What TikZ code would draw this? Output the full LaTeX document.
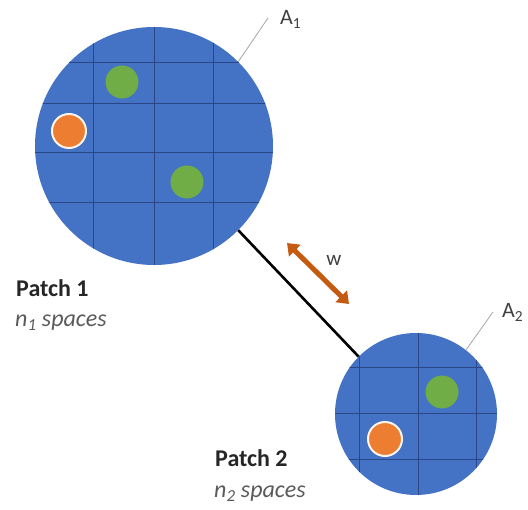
\documentclass[tikz,border=0pt]{standalone}
\usepackage{fontspec}
\setmainfont{Carlito}
\usetikzlibrary{arrows.meta,calc}

\definecolor{patchblue}{HTML}{4472C4}
\definecolor{gridnavy}{HTML}{2A4686}
\definecolor{agentgreen}{HTML}{70AD47}
\definecolor{agentorange}{HTML}{ED7D31}
\definecolor{linkorange}{HTML}{C55A11}
\definecolor{labelgrey}{HTML}{404040}
\definecolor{softgrey}{HTML}{5A5A5A}
\definecolor{leadergrey}{HTML}{A6A6A6}

\tikzset{
  patch/.style={circle, fill=patchblue, inner sep=0pt},
  gridline/.style={draw=gridnavy, line width=1pt},
  greendot/.style={circle, fill=agentgreen, inner sep=0pt, minimum size=33pt},
  orangedot/.style={circle, fill=agentorange, draw=white!92!orange, line width=2pt, inner sep=0pt, minimum size=34pt},
  corridor/.style={draw=black, line width=2.6pt},
  leader/.style={draw=leadergrey, line width=0.8pt},
  linkarrow/.style={draw=linkorange, line width=5pt,
    {Triangle[width=16pt,length=11pt]}-{Triangle[width=16pt,length=11pt]}},
  arealabel/.style={text=labelgrey, font=\fontsize{22}{24}\selectfont, inner sep=0pt, anchor=base west},
  patchname/.style={text=black!85, font=\fontsize{24}{26}\selectfont\bfseries, inner sep=0pt, anchor=base west},
  patchsize/.style={text=softgrey, font=\fontsize{24}{26}\selectfont\itshape, inner sep=0pt, anchor=base west}
}

\begin{document}
\begin{tikzpicture}[x=1pt,y=-1pt]
\useasboundingbox (0,0) rectangle (528,510);

% the two habitat patches
\node[patch, minimum size=238pt] (p1) at (154,146) {};
\node[patch, minimum size=162pt] (p2) at (416,414) {};

% grid of spaces inside patch 1
\begin{scope}
  \clip (p1.center) circle[radius=119pt];
  \foreach \gx in {93,154,213} \draw[gridline] (\gx,20) -- (\gx,270);
  \foreach \gy in {63,104,153,203} \draw[gridline] (30,\gy) -- (280,\gy);
\end{scope}

% grid of spaces inside patch 2
\begin{scope}
  \clip (p2.center) circle[radius=81pt];
  \foreach \gx in {359,418,476} \draw[gridline] (\gx,330) -- (\gx,500);
  \foreach \gy in {368,414,460} \draw[gridline] (330,\gy) -- (500,\gy);
\end{scope}

% individuals occupying spaces
\node[greendot] (g1) at (122,82) {};
\node[greendot] (g2) at (187,182) {};
\node[orangedot] (o1) at (69,131) {};
\node[greendot] (g3) at (442,392) {};
\node[orangedot] (o2) at (385,439) {};

% corridor between the patches
\draw[corridor] (p1.-45) -- (p2.135);

% dispersal weight
\coordinate (wa) at (287,243);
\coordinate (wb) at (349,304);
\draw[linkarrow] (wa) -- (wb);
\node[text=labelgrey, font=\fontsize{21}{23}\selectfont, inner sep=0pt] (wlab) at (334,260) {w};

% patch areas
\coordinate (a1end) at (268,18);
\draw[leader] (p1.45) -- (a1end);
\node[arealabel] (a1) at (280,25) {A\textsubscript{1}};
\coordinate (a2end) at (493,312);
\draw[leader] (p2.52) -- (a2end);
\node[arealabel] (a2) at (502,318) {A\textsubscript{2}};

% patch captions
\node[patchname] (n1) at (16,297) {Patch 1};
\node[patchsize] (s1) at (15,327) {n\textsubscript{1} spaces};
\node[patchname] (n2) at (215,467) {Patch 2};
\node[patchsize] (s2) at (214,498) {n\textsubscript{2} spaces};
\end{tikzpicture}
\end{document}
